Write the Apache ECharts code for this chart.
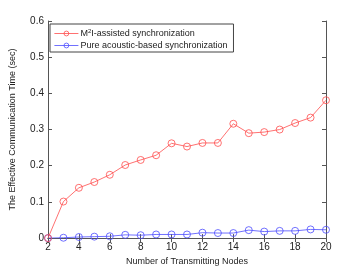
<!DOCTYPE html>
<html><head><meta charset="utf-8">
<script src="https://cdn.jsdelivr.net/npm/echarts@6/dist/echarts.min.js"></script>
<style>html,body{margin:0;padding:0;background:#fff}#c{width:360px;height:271px}</style>
</head><body><div id="c"></div>
<script>
const nodes = [2,3,4,5,6,7,8,9,10,11,12,13,14,15,16,17,18,19,20];
const m2iAssisted = [0,0.101,0.139,0.155,0.175,0.202,0.216,0.229,0.262,0.253,0.263,0.263,0.316,0.290,0.293,0.300,0.318,0.333,0.381];
const pureAcoustic = [0,0.001,0.003,0.004,0.005,0.009,0.008,0.010,0.010,0.010,0.015,0.014,0.014,0.022,0.018,0.020,0.020,0.024,0.023];
const seriesNames = ['M2I-assisted synchronization','Pure acoustic-based synchronization'];
const xTitle = 'Number of Transmitting Nodes';
const yTitle = 'The Effective Communication Time (sec)';

const font = 'Liberation Sans, Arial, sans-serif';
const red = '#ff4d4d', blue = '#4d4dff';
const chart = echarts.init(document.getElementById('c'));
const pair = a => a.map((v,i)=>[nodes[i],v]);
const axisLine = {show:true,lineStyle:{color:'#555',width:1}};
const tick = {show:true,inside:true,length:4,lineStyle:{color:'#555'}};
chart.setOption({
  animation:false,
  grid:{left:47,right:34,top:21,bottom:30},
  legend:{
    left:50,top:24,orient:'vertical',itemWidth:24,itemHeight:6,itemGap:3,
    padding:[4,6,2,4],borderColor:'#444',borderWidth:1,backgroundColor:'#fff',
    itemStyle:{borderWidth:0.8,color:'rgba(255,255,255,0)'},lineStyle:{width:0.8},
    textStyle:{fontFamily:font,fontSize:9,color:'#222',padding:[0,0,0,-3],
      rich:{sup:{fontSize:6,verticalAlign:'top',padding:[0,0,5,0],fontFamily:font,color:'#222'}}},
    formatter:n=> n.indexOf('M2I')===0 ? 'M{sup|2}I-assisted synchronization' : n,
    data:seriesNames
  },
  xAxis:[
    {type:'value',min:2,max:20,interval:2,position:'bottom',axisLine,axisTick:tick,splitLine:{show:false},
     axisLabel:{fontFamily:font,fontSize:10,color:'#222',margin:4},
     name:xTitle,nameLocation:'middle',nameGap:14,nameTextStyle:{fontFamily:font,fontSize:9,color:'#222'}},
    {type:'value',min:2,max:20,interval:2,position:'top',axisLine,axisTick:tick,axisLabel:{show:false},splitLine:{show:false}}
  ],
  yAxis:[
    {type:'value',min:0,max:0.6,interval:0.1,position:'left',axisLine,axisTick:tick,splitLine:{show:false},
     axisLabel:{fontFamily:font,fontSize:10,color:'#222',margin:4,formatter:v=>v===0?'0':v.toFixed(1)},
     name:yTitle,nameLocation:'middle',nameGap:31,nameTextStyle:{fontFamily:font,fontSize:9,color:'#222'}},
    {type:'value',min:0,max:0.6,interval:0.1,position:'right',axisLine,axisTick:tick,axisLabel:{show:false},splitLine:{show:false}}
  ],
  series:[
    {name:seriesNames[0],type:'line',data:pair(m2iAssisted),symbol:'circle',symbolSize:7,
     lineStyle:{color:red,width:0.8},itemStyle:{color:'rgba(255,255,255,0)',borderColor:red,borderWidth:0.8},z:3},
    {name:seriesNames[1],type:'line',data:pair(pureAcoustic),symbol:'circle',symbolSize:7,
     lineStyle:{color:blue,width:0.8},itemStyle:{color:'rgba(255,255,255,0)',borderColor:blue,borderWidth:0.8},z:2}
  ]
});
</script></body></html>
